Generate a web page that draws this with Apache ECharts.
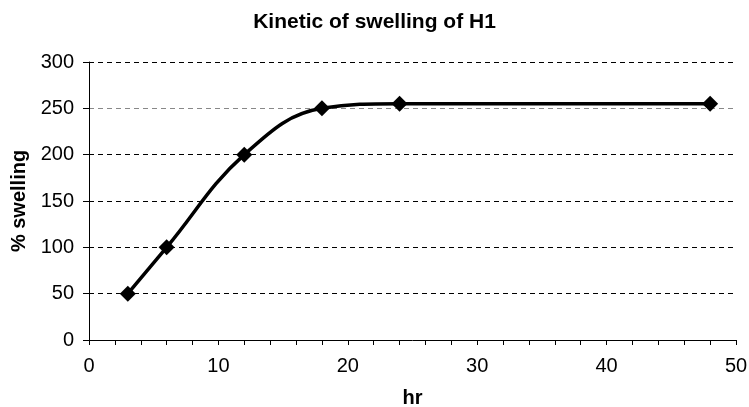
<!DOCTYPE html>
<html><head><meta charset="utf-8">
<script src="https://cdn.jsdelivr.net/npm/echarts@6/dist/echarts.min.js"></script>
<style>html,body{margin:0;padding:0;background:#fff}#c{width:749px;height:407px}</style>
</head><body><div id="c"></div>
<script>
const hours = [3, 6, 12, 18, 24, 48];
const swelling = [50, 100, 200, 250, 255, 255];
const titleText = 'Kinetic of swelling of H1';
const xName = 'hr';
const yName = '% swelling';

const chart = echarts.init(document.getElementById('c'), null, {renderer: 'canvas'});
const font = '"Liberation Sans", Arial, sans-serif';
chart.setOption({
  animation: false,
  backgroundColor: '#fff',
  title: {text: titleText, left: 'center', top: 7,
    textStyle: {fontFamily: font, fontSize: 21, fontWeight: 'bold', color: '#000'}},
  grid: {left: 89, right: 13, top: 62, bottom: 67, containLabel: false, outerBoundsMode: 'none'},
  xAxis: {type: 'value', min: 0, max: 50, interval: 10,
    name: xName, nameLocation: 'middle', nameGap: 48,
    nameTextStyle: {fontFamily: font, fontSize: 20, fontWeight: 'bold', color: '#000'},
    axisLine: {lineStyle: {color: '#000', width: 1}},
    axisTick: {show: true, inside: false, length: 5, lineStyle: {color: '#000'}},
    minorTick: {show: true, splitNumber: 5, length: 5, lineStyle: {color: '#000'}},
    axisLabel: {fontFamily: font, fontSize: 20, color: '#000', margin: 16},
    splitLine: {show: false}},
  yAxis: {type: 'value', min: 0, max: 300, interval: 50,
    name: yName, nameLocation: 'middle', nameGap: 56, nameRotate: 90,
    nameTextStyle: {fontFamily: font, fontSize: 20, fontWeight: 'bold', color: '#000'},
    axisLine: {show: true, lineStyle: {color: '#000', width: 1}},
    axisTick: {show: true, inside: false, length: 6, lineStyle: {color: '#000'}},
    axisLabel: {fontFamily: font, fontSize: 20, color: '#000', margin: 15},
    splitLine: {show: true, lineStyle: {color: ['#000', '#000', '#000', '#000', '#000', '#888', '#000'], type: [5, 4], width: 1}}},
  series: [{type: 'line', data: hours.map((h, i) => [h, swelling[i]]),
    smooth: 0.4, symbol: 'diamond', symbolSize: 16,
    lineStyle: {color: '#000', width: 3.5},
    itemStyle: {color: '#000'}}]
});
</script></body></html>
